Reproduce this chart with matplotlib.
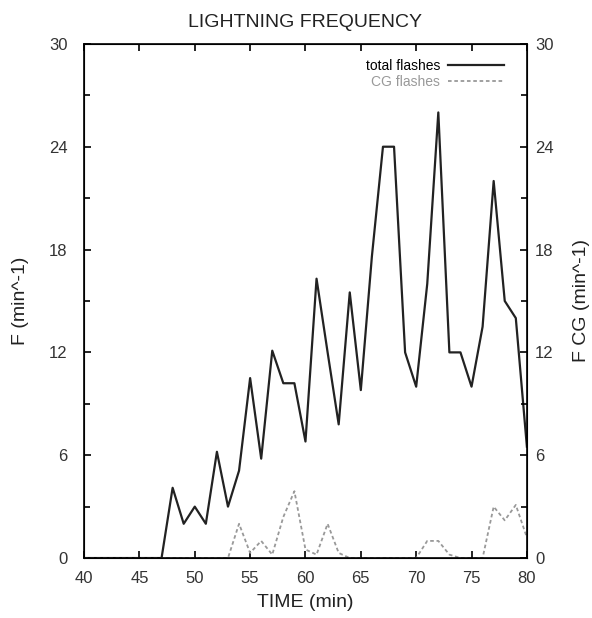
import matplotlib
matplotlib.use('Agg')
import matplotlib.pyplot as plt
import numpy as np

plt.rcParams['font.family'] = ['Liberation Sans', 'DejaVu Sans']

# minutes 40..80
time = np.arange(40, 81)
total = [0, 0, 0, 0, 0, 0, 0, 0, 4.1, 2, 3, 2, 6.2, 3, 5.1, 10.5, 5.8, 12.1, 10.2, 10.2,
         6.8, 16.3, 12, 7.8, 15.5, 9.8, 17.6, 24, 24, 12, 10, 16, 26, 12, 12, 10, 13.5, 22,
         15, 14, 6.5]
cg = [0, 0, 0, 0, 0, 0, 0, 0, 0, 0, 0, 0, 0, 0, 2.0, 0.3, 1.0, 0.2, 2.4, 3.9,
      0.5, 0.2, 2.0, 0.3, 0, 0, 0, 0, 0, 0, 0, 1.0, 1.0, 0.2, 0, 0, 0, 3.0,
      2.2, 3.1, 1.2]

fig = plt.figure(figsize=(5.92, 6.18), dpi=100)
ax = fig.add_axes([0.142, 0.097, 0.748, 0.832])

ax.plot(time, total, color='#222222', lw=1.6, label='total flashes')
ax.plot(time, cg, color='#999999', lw=1.3, ls=(0, (2, 1.5)), label='CG flashes')

ax.set_xlim(40, 80)
ax.set_ylim(0, 30)
ax.set_xticks(np.arange(40, 81, 5))
ax.set_yticks(np.arange(0, 31, 6))
ax.set_yticks(np.arange(3, 30, 6), minor=True)
ax.tick_params(direction='in', top=True, right=False, labelsize=12, length=5, width=1.2,
               labelcolor='#333333')
ax.tick_params(axis='x', pad=9)
ax.tick_params(axis='y', pad=12)
ax.tick_params(which='minor', direction='in', right=False, length=4, width=1.2)
for s in ax.spines.values():
    s.set_linewidth(1.2)

ax2 = ax.twinx()
ax2.set_ylim(0, 30)
ax2.set_yticks(np.arange(0, 31, 6))
ax2.set_yticks(np.arange(3, 30, 6), minor=True)
ax2.tick_params(direction='in', labelsize=12, length=5, width=1.2, pad=6,
                labelcolor='#333333')
ax2.tick_params(which='minor', direction='in', length=4, width=1.2)

ax.set_xlabel('TIME (min)', fontsize=14, labelpad=6, color='#222222')
ax.set_ylabel('F (min^-1)', fontsize=14, labelpad=14, color='#222222')
ax2.set_ylabel('F CG (min^-1)', fontsize=14, labelpad=14, color='#222222')
ax.set_title('LIGHTNING FREQUENCY', fontsize=14, pad=12, color='#222222')

leg = ax.legend(loc='upper right', bbox_to_anchor=(0.97, 0.99), frameon=False,
                fontsize=10, handlelength=4, handletextpad=0.6,
                borderaxespad=0.3, labelspacing=0.15, markerfirst=False)
leg.get_texts()[1].set_color('#999999')

plt.savefig('out.png', dpi=100)
